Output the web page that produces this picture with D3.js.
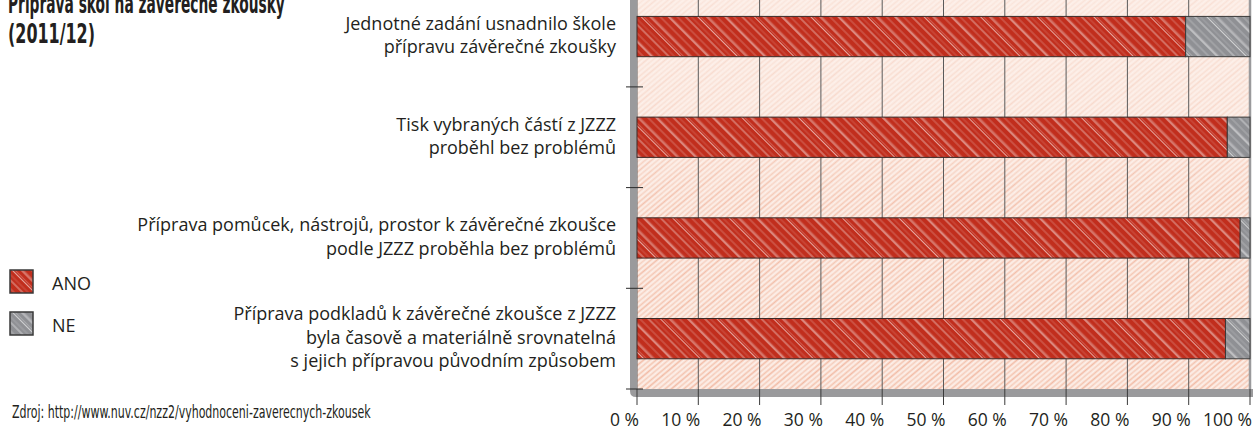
<!DOCTYPE html>
<html><head><meta charset="utf-8">
<script src="https://cdn.jsdelivr.net/npm/d3@7"></script>
<style>body{margin:0;background:#fff;} svg{display:block;}</style>
</head><body>
<svg id="chart" width="1256" height="430"></svg>
<script>
// ---- data ----
const categories = ["q1", "q2", "q3", "q4"];
const categoryLabels = [
  ["Jednotné zadání usnadnilo škole", "přípravu závěrečné zkoušky"],
  ["Tisk vybraných částí z JZZZ", "proběhl bez problémů"],
  ["Příprava pomůcek, nástrojů, prostor k závěrečné zkoušce", "podle JZZZ proběhla bez problémů"],
  ["Příprava podkladů k závěrečné zkoušce z JZZZ", "byla časově a materiálně srovnatelná", "s jejich přípravou původním způsobem"]
];
const ano = [89.5, 96.3, 98.4, 96.0];
const ne = [10.5, 3.7, 1.6, 4.0];
const seriesNames = ["ANO", "NE"];
const xTicks = [0, 10, 20, 30, 40, 50, 60, 70, 80, 90, 100];
const titleLines = ["Příprava škol na závěrečné zkoušky", "(2011/12)"];
const sourceText = "Zdroj: http://www.nuv.cz/nzz2/vyhodnoceni-zaverecnych-zkousek";

// ---- layout ----
const svg = d3.select("#chart");
const x = d3.scaleLinear().domain([0, 100]).range([637, 1250]);
const y = d3.scaleBand().domain(categories).range([-13.8, 389]).paddingInner(0.6).paddingOuter(0.3);
const plotTop = 0, plotBottom = 389;
const labelFont = "'Open Sans', Lato, sans-serif";
const condFont = "'Liberation Sans Narrow', 'DejaVu Sans Condensed', 'Roboto', sans-serif";
const RED = "#c12e1d", GREY = "#8f9094";

const defs = svg.append("defs");
function streakPattern(id, base, rot, lines, size) {
  const p = defs.append("pattern").attr("id", id)
    .attr("patternUnits", "userSpaceOnUse").attr("width", size).attr("height", size)
    .attr("patternTransform", `rotate(${rot})`);
  p.append("rect").attr("width", size).attr("height", size).attr("fill", base);
  lines.forEach(l => p.append("line").attr("x1", l[0]).attr("x2", l[0]).attr("y1", 0).attr("y2", size)
    .attr("stroke", l[3] || "#fff").attr("stroke-width", l[1]).attr("stroke-opacity", l[2]));
}
const barStreaks = [[1.5, 0.7, 0.85], [3.5, 0.5, 0.45], [8, 0.9, 0.75], [9.6, 0.5, 0.4], [15, 0.6, 0.55], [21, 1, 0.85], [22.6, 0.5, 0.35], [27, 0.6, 0.5], [33, 0.8, 0.75], [37, 0.5, 0.4]];
streakPattern("pRed", RED, -45, barStreaks, 40);
streakPattern("pGrey", GREY, -45, barStreaks, 40);
const bgLines = [];
for (let i = 0; i < 10; i++) bgLines.push([i * 4 + 1.5, 1.8, 0.6 + (i % 3) * 0.15, "#f0b49b"]);
streakPattern("pBg", "none", 50, bgLines, 40);

const grad = defs.append("linearGradient").attr("id", "gBg").attr("x1", 0).attr("x2", 0).attr("y1", 0).attr("y2", 1);
grad.append("stop").attr("offset", "0").attr("stop-color", "#fff").attr("stop-opacity", 0.3);
grad.append("stop").attr("offset", "0.3").attr("stop-color", "#fff").attr("stop-opacity", 0.45);
grad.append("stop").attr("offset", "0.5").attr("stop-color", "#fff").attr("stop-opacity", 0.85);
grad.append("stop").attr("offset", "1").attr("stop-color", "#fff").attr("stop-opacity", 1);
const mask = defs.append("mask").attr("id", "mBg").attr("maskUnits", "userSpaceOnUse")
  .attr("x", 0).attr("y", 0).attr("width", 1256).attr("height", 430);
mask.append("rect").attr("x", x(0)).attr("y", plotTop).attr("width", x(100) - x(0)).attr("height", plotBottom - plotTop).attr("fill", "url(#gBg)");

// background
svg.append("rect").attr("x", x(0)).attr("y", plotTop).attr("width", x(100) - x(0)).attr("height", plotBottom - plotTop).attr("fill", "#fdf1eb");
svg.append("rect").attr("x", x(0)).attr("y", plotTop).attr("width", x(100) - x(0)).attr("height", plotBottom - plotTop)
  .attr("fill", "url(#pBg)").attr("mask", "url(#mBg)");

// gridlines
svg.append("g").selectAll("line").data(xTicks).join("line")
  .attr("x1", d => x(d)).attr("x2", d => x(d)).attr("y1", plotTop).attr("y2", plotBottom)
  .attr("stroke", d => d === 100 ? "#9a9a9c" : "#5a5a5a").attr("stroke-width", d => d === 100 ? 2.5 : 1);

// axis frame (grey thick)
svg.append("path")
  .attr("d", `M630,0 L637,0 L637,389 L1253,389 L1253,397 L636,397 Q630,397 630,391 Z`)
  .attr("fill", "#9a9a9c");
// bottom ticks
svg.append("g").selectAll("line").data(xTicks).join("line")
  .attr("x1", d => x(d)).attr("x2", d => x(d)).attr("y1", plotBottom).attr("y2", 405)
  .attr("stroke", "#3a3a3a").attr("stroke-width", 1);
// left ticks at band boundaries
const bounds = categories.map(c => y(c) - y.step() * y.paddingInner() / 2).concat([y(categories[categories.length - 1]) + y.bandwidth() + y.step() * y.paddingInner() / 2]);
svg.append("g").selectAll("line").data(bounds.filter(b => b > 5)).join("line")
  .attr("x1", 626).attr("x2", 643).attr("y1", d => d).attr("y2", d => d)
  .attr("stroke", "#2a2a2a").attr("stroke-width", 1);

// bars
const rows = categories.map((c, i) => ({c, ano: ano[i], ne: ne[i]}));
const bars = svg.append("g");
bars.selectAll("rect.ano").data(rows).join("rect").attr("class", "ano")
  .attr("x", x(0)).attr("y", d => y(d.c)).attr("width", d => x(d.ano) - x(0)).attr("height", y.bandwidth())
  .attr("fill", "url(#pRed)").attr("stroke", "#3a2a28").attr("stroke-width", 1);
bars.selectAll("rect.ne").data(rows).join("rect").attr("class", "ne")
  .attr("x", d => x(d.ano)).attr("y", d => y(d.c)).attr("width", d => x(d.ano + d.ne) - x(d.ano)).attr("height", y.bandwidth())
  .attr("fill", "url(#pGrey)").attr("stroke", "#3a3a3a").attr("stroke-width", 1);

// x tick labels
svg.append("g").selectAll("text").data(xTicks).join("text")
  .attr("x", d => x(d) + 2).attr("y", 426).attr("text-anchor", "end")
  .attr("font-family", labelFont).attr("font-size", 17.5).attr("fill", "#231f20")
  .text(d => `${d} %`);

// category labels
const lh = 23.5;
const lab = svg.append("g").selectAll("text").data(rows).join("text")
  .attr("text-anchor", "end").attr("font-family", labelFont).attr("font-size", 18).attr("fill", "#231f20");
lab.each(function(d, i) {
  const lines = categoryLabels[i];
  const cy = y(d.c) + y.bandwidth() / 2;
  const t = d3.select(this);
  lines.forEach((ln, k) => {
    t.append("tspan").attr("x", 616).attr("y", cy - (lines.length - 1) / 2 * lh + 5 + k * lh).text(ln);
  });
});

// helper: squeeze text horizontally to a target width
function fitWidth(sel, x0, y0, target) {
  sel.attr("x", 0).attr("y", 0);
  const w = sel.node().getComputedTextLength();
  sel.attr("transform", `translate(${x0},${y0}) scale(${target / w},1)`);
}

// title
svg.append("g").selectAll("text").data(titleLines).join("text")
  .attr("font-family", condFont).attr("font-weight", "bold").attr("font-size", 26).attr("fill", "#231f20")
  .text(d => d)
  .each(function(d, i) { fitWidth(d3.select(this), 8, 12.5 + i * 30, i === 0 ? 277 : 87); });

// legend
const legend = svg.append("g").selectAll("g").data(seriesNames).join("g")
  .attr("transform", (d, i) => `translate(10,${270 + i * 42})`);
legend.append("rect").attr("width", 23).attr("height", 23)
  .attr("fill", (d, i) => i === 0 ? "url(#pRed)" : "url(#pGrey)").attr("stroke", "#3a3a3a").attr("stroke-width", 1.5);
legend.append("text").attr("x", 42).attr("y", 20)
  .attr("font-family", labelFont).attr("font-size", 18).attr("fill", "#231f20").text(d => d);

// source
const src = svg.append("text")
  .attr("font-family", condFont).attr("font-size", 18).attr("fill", "#231f20").text(sourceText);
fitWidth(src, 12, 418, 359);
</script>
</body></html>
